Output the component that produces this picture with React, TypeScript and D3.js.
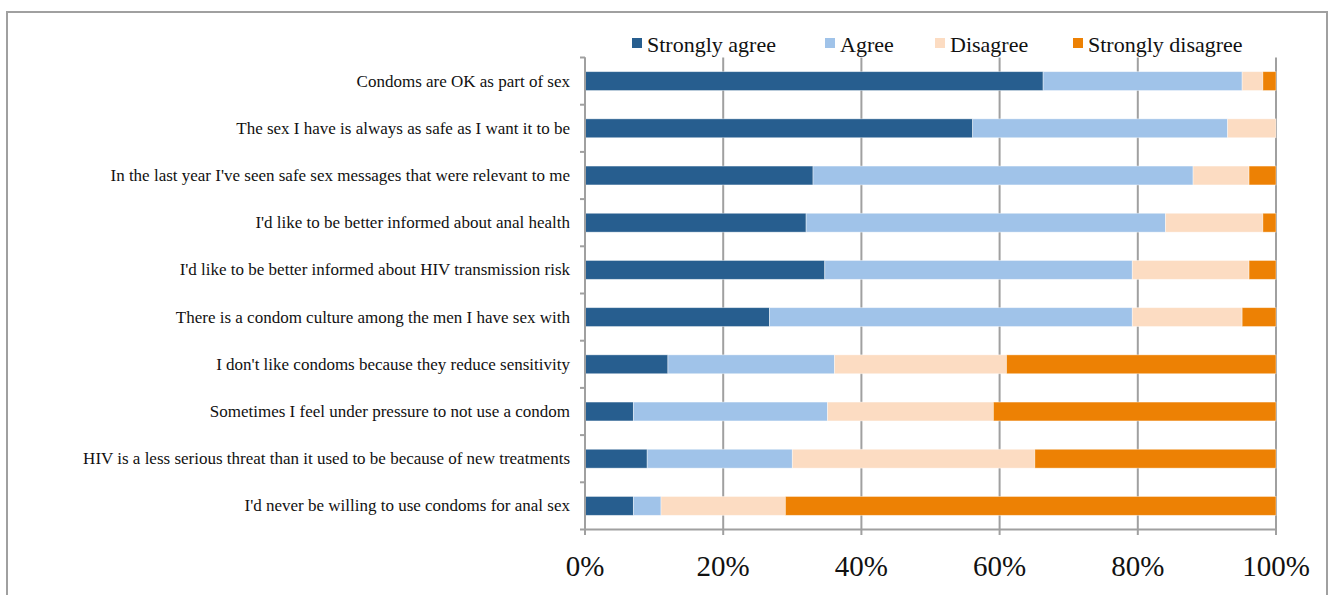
import React from "react";
import * as d3 from "d3";

const categories = [
  "Condoms are OK as part of sex",
  "The sex I have is always as safe as I want it to be",
  "In the last year I've seen safe sex messages that were relevant to me",
  "I'd like to be better informed about anal health",
  "I'd like to be better informed about HIV transmission risk",
  "There is a condom culture among the men I have sex with",
  "I don't like condoms because they reduce sensitivity",
  "Sometimes I feel under pressure to not use a condom",
  "HIV is a less serious threat than it used to be because of new treatments",
  "I'd never be willing to use condoms for anal sex",
];

const seriesNames = ["Strongly agree", "Agree", "Disagree", "Strongly disagree"];
const seriesColors = ["#275E8F", "#A0C3E9", "#FCDCC2", "#ED8104"];

const stronglyAgree = [66.3, 56.1, 33.0, 32.0, 34.7, 26.7, 12.0, 7.0, 9.0, 7.0];
const agree = [28.8, 36.9, 55.0, 52.0, 44.5, 52.5, 24.1, 28.1, 21.0, 4.0];
const disagree = [3.0, 7.0, 8.1, 14.1, 16.9, 15.9, 24.9, 24.0, 35.1, 18.0];
const stronglyDisagree = [1.9, 0.0, 3.9, 1.9, 3.9, 4.9, 39.0, 40.9, 34.9, 71.0];

const xTicks = [0, 0.2, 0.4, 0.6, 0.8, 1.0];

const legendTextX = [647, 840, 950, 1088];

export default function App() {
  const rows = categories.map((c, i) => {
    const vals = [stronglyAgree[i], agree[i], disagree[i], stronglyDisagree[i]];
    const total = d3.sum(vals);
    return { c, vals: vals.map((v) => v / total) };
  });

  const x = d3.scaleLinear().domain([0, 1]).range([585, 1276]);
  const y = d3
    .scaleBand<string>()
    .domain(categories)
    .range([57.5, 529.5])
    .paddingInner(0.6)
    .paddingOuter(0.3);
  const step = y.step();
  const fmt = d3.format(".0%");
  const grid = "#A0A0A0";
  const serif = "'Liberation Serif', 'DejaVu Serif', serif";

  return (
    <svg
      width={1332}
      height={595}
      style={{ position: "absolute", left: 0, top: 0, background: "#fff" }}
      fontFamily={serif}
    >
      <rect x={7} y={12} width={1320} height={620} fill="#fff" stroke={grid} strokeWidth={2} />

      {/* gridlines */}
      {xTicks.map((t) => (
        <line key={"g" + t} x1={x(t)} x2={x(t)} y1={57.5} y2={535} stroke={grid} strokeWidth={2} />
      ))}

      {/* bars */}
      {rows.map((r) => {
        let acc = 0;
        return (
          <g key={r.c}>
            {r.vals.map((v, k) => {
              const x0 = acc;
              acc += v;
              if (v <= 0) return null;
              return (
                <rect
                  key={k}
                  x={x(x0)}
                  y={y(r.c)!}
                  width={x(acc) - x(x0)}
                  height={y.bandwidth()}
                  fill={seriesColors[k]}
                  stroke="#fff"
                  strokeOpacity={0.5}
                  strokeWidth={0.8}
                />
              );
            })}
          </g>
        );
      })}

      {/* axes */}
      <line x1={585} x2={585} y1={57.5} y2={529.5} stroke={grid} strokeWidth={2} />
      <line x1={585} x2={1277} y1={529.5} y2={529.5} stroke={grid} strokeWidth={2} />
      {d3.range(categories.length + 1).map((i) => (
        <line
          key={"yt" + i}
          x1={580}
          x2={585}
          y1={57.5 + i * step}
          y2={57.5 + i * step}
          stroke={grid}
          strokeWidth={2}
        />
      ))}

      {/* category labels */}
      {categories.map((c) => (
        <text
          key={"l" + c}
          x={570}
          y={y(c)! + y.bandwidth() / 2}
          textAnchor="end"
          dominantBaseline="central"
          fontSize={17}
          fill="#111"
        >
          {c}
        </text>
      ))}

      {/* x tick labels */}
      {xTicks.map((t) => (
        <text
          key={"xt" + t}
          x={x(t)}
          y={566}
          textAnchor="middle"
          dominantBaseline="central"
          fontSize={29}
          fill="#111"
        >
          {fmt(t)}
        </text>
      ))}

      {/* legend */}
      {seriesNames.map((s, k) => (
        <g key={"lg" + s}>
          <rect x={legendTextX[k] - 15} y={38} width={10} height={10} fill={seriesColors[k]} />
          <text x={legendTextX[k]} y={44} dominantBaseline="central" fontSize={22} fill="#111">
            {s}
          </text>
        </g>
      ))}
    </svg>
  );
}
